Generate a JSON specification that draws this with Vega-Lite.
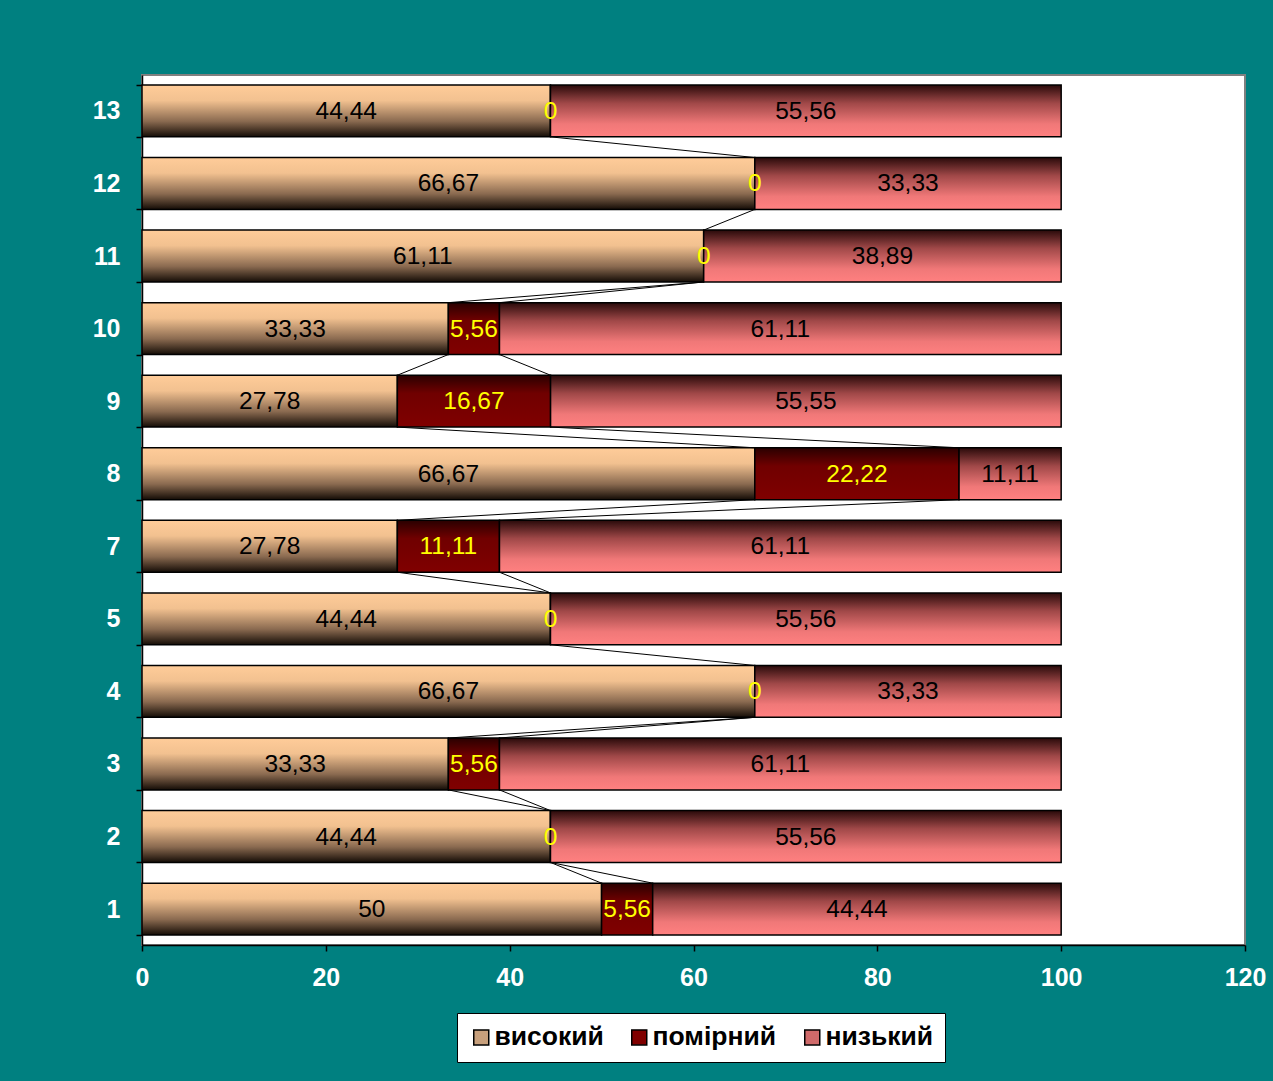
{
  "$schema": "https://vega.github.io/schema/vega-lite/v6.json",
  "width": 1103,
  "height": 870,
  "autosize": {"type": "none"},
  "padding": {"left": 142, "top": 75, "right": 28, "bottom": 136},
  "background": "#008080",
  "config": {
    "view": {"fill": "white", "stroke": "#808080", "strokeWidth": 2},
    "font": "Liberation Sans",
    "locale": {"number": {"decimal": ",", "thousands": " ", "grouping": [3], "currency": ["", ""]}},
    "axis": {"domainColor": "black", "domainWidth": 1.5, "tickColor": "black", "tickWidth": 1.5, "tickSize": 6, "labelColor": "white", "labelFont": "Liberation Sans", "labelFontSize": 25, "labelFontWeight": "bold", "grid": false, "title": null, "labelFlush": false}
  },
  "datasets": {
    "main": [
      {"cat": "13", "series": "високий", "o": 1, "value": 44.44},
      {"cat": "13", "series": "помірний", "o": 2, "value": 0},
      {"cat": "13", "series": "низький", "o": 3, "value": 55.56},
      {"cat": "12", "series": "високий", "o": 1, "value": 66.67},
      {"cat": "12", "series": "помірний", "o": 2, "value": 0},
      {"cat": "12", "series": "низький", "o": 3, "value": 33.33},
      {"cat": "11", "series": "високий", "o": 1, "value": 61.11},
      {"cat": "11", "series": "помірний", "o": 2, "value": 0},
      {"cat": "11", "series": "низький", "o": 3, "value": 38.89},
      {"cat": "10", "series": "високий", "o": 1, "value": 33.33},
      {"cat": "10", "series": "помірний", "o": 2, "value": 5.56},
      {"cat": "10", "series": "низький", "o": 3, "value": 61.11},
      {"cat": "9", "series": "високий", "o": 1, "value": 27.78},
      {"cat": "9", "series": "помірний", "o": 2, "value": 16.67},
      {"cat": "9", "series": "низький", "o": 3, "value": 55.55},
      {"cat": "8", "series": "високий", "o": 1, "value": 66.67},
      {"cat": "8", "series": "помірний", "o": 2, "value": 22.22},
      {"cat": "8", "series": "низький", "o": 3, "value": 11.11},
      {"cat": "7", "series": "високий", "o": 1, "value": 27.78},
      {"cat": "7", "series": "помірний", "o": 2, "value": 11.11},
      {"cat": "7", "series": "низький", "o": 3, "value": 61.11},
      {"cat": "5", "series": "високий", "o": 1, "value": 44.44},
      {"cat": "5", "series": "помірний", "o": 2, "value": 0},
      {"cat": "5", "series": "низький", "o": 3, "value": 55.56},
      {"cat": "4", "series": "високий", "o": 1, "value": 66.67},
      {"cat": "4", "series": "помірний", "o": 2, "value": 0},
      {"cat": "4", "series": "низький", "o": 3, "value": 33.33},
      {"cat": "3", "series": "високий", "o": 1, "value": 33.33},
      {"cat": "3", "series": "помірний", "o": 2, "value": 5.56},
      {"cat": "3", "series": "низький", "o": 3, "value": 61.11},
      {"cat": "2", "series": "високий", "o": 1, "value": 44.44},
      {"cat": "2", "series": "помірний", "o": 2, "value": 0},
      {"cat": "2", "series": "низький", "o": 3, "value": 55.56},
      {"cat": "1", "series": "високий", "o": 1, "value": 50},
      {"cat": "1", "series": "помірний", "o": 2, "value": 5.56},
      {"cat": "1", "series": "низький", "o": 3, "value": 44.44}
    ],
    "lines": [
      {"from": "13", "to": "12", "a": 44.44, "b": 66.67},
      {"from": "12", "to": "11", "a": 66.67, "b": 61.11},
      {"from": "11", "to": "10", "a": 61.11, "b": 33.33},
      {"from": "11", "to": "10", "a": 61.11, "b": 38.89},
      {"from": "10", "to": "9", "a": 33.33, "b": 27.78},
      {"from": "10", "to": "9", "a": 38.89, "b": 44.45},
      {"from": "9", "to": "8", "a": 27.78, "b": 66.67},
      {"from": "9", "to": "8", "a": 44.45, "b": 88.89},
      {"from": "8", "to": "7", "a": 66.67, "b": 27.78},
      {"from": "8", "to": "7", "a": 88.89, "b": 38.89},
      {"from": "7", "to": "5", "a": 27.78, "b": 44.44},
      {"from": "7", "to": "5", "a": 38.89, "b": 44.44},
      {"from": "5", "to": "4", "a": 44.44, "b": 66.67},
      {"from": "4", "to": "3", "a": 66.67, "b": 33.33},
      {"from": "4", "to": "3", "a": 66.67, "b": 38.89},
      {"from": "3", "to": "2", "a": 33.33, "b": 44.44},
      {"from": "3", "to": "2", "a": 38.89, "b": 44.44},
      {"from": "2", "to": "1", "a": 44.44, "b": 50},
      {"from": "2", "to": "1", "a": 44.44, "b": 55.56}
    ]
  },
  "layer": [
    {
      "data": {"name": "main"},
      "mark": {"type": "bar", "opacity": 0},
      "encoding": {
        "y": {"field": "cat", "type": "nominal",
          "scale": {"domain": ["13", "12", "11", "10", "9", "8", "7", "5", "4", "3", "2", "1"], "paddingInner": 0.285, "paddingOuter": 0.1375},
          "axis": {"tickBand": "extent", "labelPadding": 16}},
        "x": {"field": "value", "type": "quantitative", "stack": null,
          "scale": {"domain": [0, 120], "nice": false},
          "axis": {"values": [0, 20, 40, 60, 80, 100, 120], "labelPadding": 14, "format": "d"}},
        "color": {"field": "series", "type": "nominal",
          "scale": {"domain": ["високий", "помірний", "низький"], "range": ["#C8A07C", "#800000", "#D06A6A"]},
          "legend": {"title": null, "orient": "none", "legendX": 315, "legendY": 938, "direction": "horizontal",
            "fillColor": "white", "strokeColor": "black", "padding": 11,
            "symbolType": "square", "symbolSize": 225, "symbolStrokeColor": "black", "symbolStrokeWidth": 1.5, "symbolOpacity": 1,
            "labelFont": "Liberation Sans", "labelFontSize": 26.5, "labelFontWeight": "bold", "labelColor": "black",
            "columnPadding": 22, "labelOffset": 0,
            "encode": {"symbols": {"update": {
              "fill": {"signal": "datum.value === 'високий' ? {gradient: 'linear', x1: 0, y1: 0, x2: 0, y2: 1, stops: [{offset: 0, color: '#FFCC99'}, {offset: 0.3, color: '#F2C190'}, {offset: 0.7, color: '#8a6a50'}, {offset: 1, color: '#140c06'}]} : datum.value === 'помірний' ? {gradient: 'linear', x1: 0, y1: 0, x2: 0, y2: 1, stops: [{offset: 0, color: '#2a0000'}, {offset: 0.35, color: '#700000'}, {offset: 1, color: '#800000'}]} : {gradient: 'linear', x1: 0, y1: 0, x2: 0, y2: 1, stops: [{offset: 0, color: '#2a0a0a'}, {offset: 0.35, color: '#a04848'}, {offset: 0.75, color: '#F07878'}, {offset: 1, color: '#FF8080'}]}"},
              "stroke": {"value": "black"},
              "strokeWidth": {"value": 1.5},
              "opacity": {"value": 1},
              "fillOpacity": {"value": 1},
              "strokeOpacity": {"value": 1}
            }}}}}
      }
    },
    {
      "data": {"name": "main"},
      "transform": [{"stack": "value", "groupby": ["cat"], "sort": [{"field": "o", "order": "ascending"}], "as": ["x0", "x1"]}],
      "encoding": {
        "y": {"field": "cat", "type": "nominal"},
        "x": {"field": "x0", "type": "quantitative"},
        "x2": {"field": "x1"}
      },
      "layer": [
        {
          "transform": [{"filter": "datum.series === 'високий'"}],
          "mark": {"type": "bar", "stroke": "black", "strokeWidth": 1.5,
            "fill": {"gradient": "linear", "x1": 0, "y1": 0, "x2": 0, "y2": 1, "stops": [{"offset": 0, "color": "#FFCC99"}, {"offset": 0.3, "color": "#F2C190"}, {"offset": 0.7, "color": "#8a6a50"}, {"offset": 1, "color": "#140c06"}]}}
        },
        {
          "transform": [{"filter": "datum.series === 'помірний'"}],
          "mark": {"type": "bar", "stroke": "black", "strokeWidth": 1.5,
            "fill": {"gradient": "linear", "x1": 0, "y1": 0, "x2": 0, "y2": 1, "stops": [{"offset": 0, "color": "#2a0000"}, {"offset": 0.35, "color": "#700000"}, {"offset": 1, "color": "#800000"}]}}
        },
        {
          "transform": [{"filter": "datum.series === 'низький'"}],
          "mark": {"type": "bar", "stroke": "black", "strokeWidth": 1.5,
            "fill": {"gradient": "linear", "x1": 0, "y1": 0, "x2": 0, "y2": 1, "stops": [{"offset": 0, "color": "#2a0a0a"}, {"offset": 0.35, "color": "#a04848"}, {"offset": 0.75, "color": "#F07878"}, {"offset": 1, "color": "#FF8080"}]}}
        }
      ]
    },
    {
      "data": {"name": "lines"},
      "mark": {"type": "rule", "color": "black", "strokeWidth": 1},
      "encoding": {
        "y": {"field": "from", "type": "nominal", "bandPosition": 1},
        "y2": {"field": "to", "bandPosition": 0},
        "x": {"field": "a", "type": "quantitative"},
        "x2": {"field": "b"}
      }
    },
    {
      "data": {"name": "main"},
      "mark": {"type": "text", "font": "Liberation Sans", "fontSize": 24.5, "baseline": "middle", "align": "center", "dy": 1},
      "encoding": {
        "y": {"field": "cat", "type": "nominal"},
        "x": {"field": "value", "type": "quantitative", "stack": "zero", "bandPosition": 0.5},
        "detail": {"field": "series", "type": "nominal"},
        "order": {"field": "o", "type": "quantitative"},
        "text": {"field": "value", "type": "quantitative", "format": ".2~f"},
        "color": {"condition": {"test": "datum.series === 'помірний'", "value": "#FFFF00"}, "value": "black"}
      }
    }
  ]
}
